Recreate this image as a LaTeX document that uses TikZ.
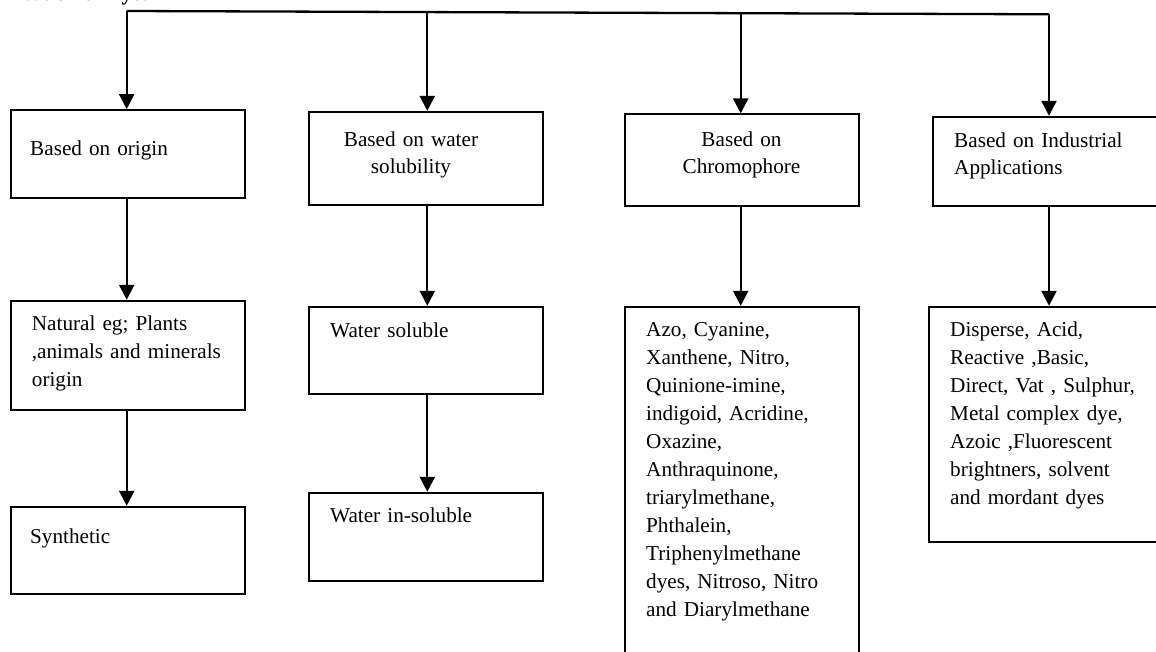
\documentclass[tikz,border=0pt]{standalone}
\usepackage{fontspec}
\setmainfont{Liberation Serif}
\usetikzlibrary{arrows.meta,fit}
\begin{document}
\begin{tikzpicture}[x=1pt,y=-1pt,
  box/.style={draw, line width=1.8pt, inner sep=0pt},
  txt/.style={inner sep=0pt, text width=230pt, align=left, font=\fontsize{21.2}{28}\selectfont},
  toptxt/.style={inner sep=0pt, text width=230pt, font=\fontsize{21.2}{27}\selectfont},
  conn/.style={line width=2.3pt, -{Triangle[length=15pt,width=15pt]}},
  trunk/.style={line width=2.3pt}]
\useasboundingbox (0,0) rectangle (1156,652);
\clip (0,0) rectangle (1156,652);

% title (cut off by the page top, as in the reference)
\node[anchor=base east, inner sep=0pt, font=\bfseries\fontsize{21.2}{24}\selectfont] (title) at (150,0.5) {Classification of Dyes};

% trunk coordinates
\coordinate (t1) at (126.7,11);
\coordinate (t2) at (427.3,12.1);
\coordinate (t3) at (740.7,13.2);
\coordinate (t4) at (1049,14.3);

% column 1
\node[box, fit={(11,110) (245,198)}] (o1) {};
\node[box, fit={(11,300.7) (245,410)}] (o2) {};
\node[box, fit={(11,506.7) (245,594.3)}] (o3) {};
\node[txt, anchor=base west] (o1t) at (30,156) {Based on origin};
\node[txt, anchor=base west] (o2t) at (31.7,330.7) {Natural eg; Plants\\,animals and minerals\\origin};
\node[txt, anchor=base west] (o3t) at (30,543) {Synthetic};

% column 2
\node[box, fit={(309,111.7) (542.7,205)}] (w1) {};
\node[box, fit={(309,306.7) (542.7,394.3)}] (w2) {};
\node[box, fit={(309,492.7) (542.7,580.7)}] (w3) {};
\node[toptxt, align=center, anchor=base] (w1t) at (411,147) {Based on water\\solubility};
\node[txt, anchor=base west] (w2t) at (330,337.3) {Water soluble};
\node[txt, anchor=base west] (w3t) at (330,522.7) {Water in-soluble};

% column 3
\node[box, fit={(625,114.3) (859.3,206)}] (c1) {};
\node[box, fit={(625,306.7) (859.3,672)}] (c2) {};
\node[toptxt, align=center, anchor=base] (c1t) at (741.5,146.7) {Based on\\Chromophore};
\node[txt, anchor=base west] (c2t) at (646,336.7) {Azo, Cyanine,\\Xanthene, Nitro,\\Quinione-imine,\\indigoid, Acridine,\\Oxazine,\\Anthraquinone,\\triarylmethane,\\Phthalein,\\Triphenylmethane\\dyes, Nitroso, Nitro\\and Diarylmethane};

% column 4
\node[box, fit={(932.7,116.7) (1175,206)}] (i1) {};
\node[box, fit={(929,306.7) (1175,541.7)}] (i2) {};
\node[toptxt, align=left, anchor=base west] (i1t) at (954,147.7) {Based on Industrial\\Applications};
\node[txt, anchor=base west] (i2t) at (950,336.7) {Disperse, Acid,\\Reactive ,Basic,\\Direct, Vat , Sulphur,\\Metal complex dye,\\Azoic ,Fluorescent\\brightners, solvent\\and mordant dyes};

% trunk and branches
\draw[trunk] (t1) -- (t4);
\draw[conn] (t1) -- (t1 |- o1.north);
\draw[conn] (t2) -- (t2 |- w1.north);
\draw[conn] (t3) -- (t3 |- c1.north);
\draw[conn] (t4) -- (t4 |- i1.north);

% vertical connectors
\draw[conn] (t1 |- o1.south) -- (t1 |- o2.north);
\draw[conn] (t1 |- o2.south) -- (t1 |- o3.north);
\draw[conn] (t2 |- w1.south) -- (t2 |- w2.north);
\draw[conn] (t2 |- w2.south) -- (t2 |- w3.north);
\draw[conn] (t3 |- c1.south) -- (t3 |- c2.north);
\draw[conn] (t4 |- i1.south) -- (t4 |- i2.north);
\end{tikzpicture}
\end{document}
